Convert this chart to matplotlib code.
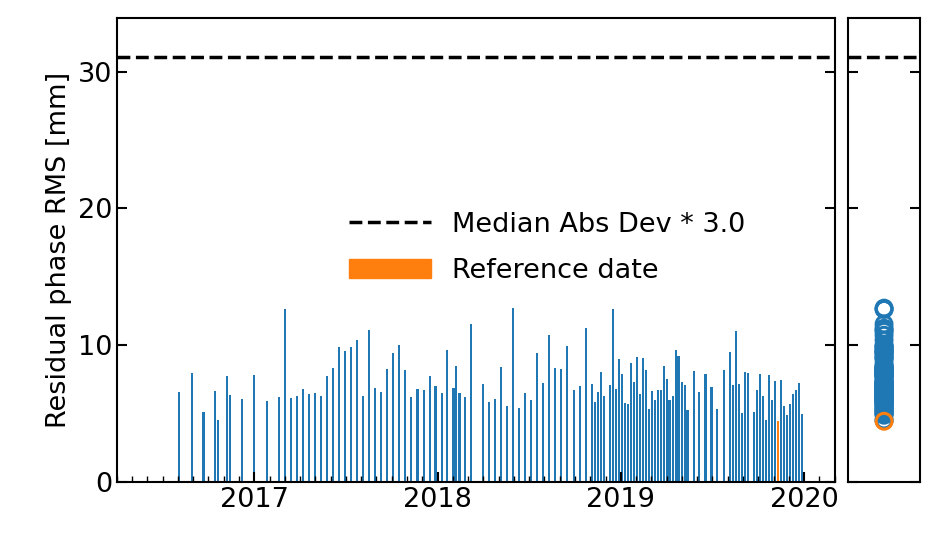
import matplotlib
matplotlib.use("Agg")
import matplotlib.pyplot as plt
from matplotlib.patches import Patch
from matplotlib.lines import Line2D
import numpy as np

dates = [2016.591, 2016.658, 2016.723, 2016.788, 2016.804, 2016.853, 2016.870, 2016.935, 2017.000, 2017.071,
         2017.136, 2017.168, 2017.201, 2017.234, 2017.266, 2017.299, 2017.332, 2017.364, 2017.397, 2017.429,
         2017.462, 2017.495, 2017.527, 2017.560, 2017.592, 2017.625, 2017.658, 2017.690, 2017.723, 2017.755,
         2017.788, 2017.821, 2017.853, 2017.891, 2017.924, 2017.957, 2017.989, 2018.022, 2018.054, 2018.087,
         2018.103, 2018.120, 2018.152, 2018.185, 2018.250, 2018.283, 2018.315, 2018.348, 2018.380, 2018.413,
         2018.446, 2018.478, 2018.511, 2018.543, 2018.576, 2018.609, 2018.641, 2018.674, 2018.707, 2018.745,
         2018.777, 2018.810, 2018.842, 2018.859, 2018.875, 2018.891, 2018.908, 2018.940, 2018.957, 2018.973,
         2018.989, 2019.005, 2019.022, 2019.038, 2019.054, 2019.071, 2019.087, 2019.103, 2019.120, 2019.136,
         2019.152, 2019.168, 2019.185, 2019.201, 2019.217, 2019.234, 2019.250, 2019.266, 2019.283, 2019.299,
         2019.315, 2019.332, 2019.348, 2019.364, 2019.397, 2019.429, 2019.462, 2019.495, 2019.527, 2019.565,
         2019.598, 2019.614, 2019.630, 2019.647, 2019.663, 2019.679, 2019.696, 2019.728, 2019.745, 2019.761,
         2019.777, 2019.793, 2019.810, 2019.826, 2019.842, 2019.859, 2019.875, 2019.891, 2019.908, 2019.924,
         2019.940, 2019.957, 2019.973, 2019.989]
rms = [6.56, 7.95, 5.10, 6.63, 4.51, 7.73, 6.34, 6.05, 7.80, 5.90,
       6.20, 12.63, 6.12, 6.27, 6.78, 6.41, 6.49, 6.27, 7.73, 8.32,
       9.85, 9.56, 9.85, 10.37, 6.27, 11.10, 6.85, 6.56, 8.24, 9.41,
       10.0, 8.17, 6.20, 6.78, 6.71, 7.73, 7.00, 6.49, 9.63, 6.85,
       8.46, 6.49, 6.20, 11.54, 7.15, 5.83, 6.05, 8.39, 5.54, 12.71,
       5.39, 6.49, 5.98, 9.41, 7.22, 10.73, 8.32, 8.24, 9.93, 6.71,
       7.00, 11.24, 7.15, 5.83, 6.56, 8.02, 6.27, 7.07, 12.63, 6.78,
       8.98, 7.88, 5.76, 5.68, 8.68, 7.29, 9.12, 6.41, 9.05, 8.17,
       5.32, 6.63, 5.98, 6.71, 6.71, 8.46, 7.51, 5.98, 6.27, 9.63,
       9.20, 7.29, 7.07, 5.24, 8.10, 6.56, 7.88, 6.93, 5.32, 8.17,
       9.49, 7.07, 11.02, 7.15, 5.02, 8.02, 7.95, 5.10, 6.71, 7.88,
       6.27, 4.51, 7.80, 5.98, 7.37, 4.44, 7.44, 5.54, 4.88, 5.68,
       6.41, 6.71, 7.22, 4.98]
ref_date = 2019.859
mad_threshold = 31.1
year_ticks = [2017, 2018, 2019, 2020]

blue = "#1f77b4"
orange = "#ff7f0e"
plt.rcParams['font.family'] = ['DejaVu Sans']
fig = plt.figure(figsize=(9.42, 5.45), dpi=100)
ax = fig.add_axes([0.124, 0.1156, 0.762, 0.851])
ax2 = fig.add_axes([0.900, 0.1156, 0.077, 0.851], sharey=ax)

d = np.array(dates); r = np.array(rms)
isref = np.isclose(d, ref_date, rtol=0, atol=1e-4)
ax.bar(d[~isref], r[~isref], width=0.0115, color=blue, linewidth=0)
ax.bar(d[isref], r[isref], width=0.0115, color=orange, linewidth=0)
ax.axhline(mad_threshold, color='k', ls='--', lw=2.5)
ax.set_xlim(2016.255, 2020.16)
ax.set_ylim(0, 33.9)
ax.set_xticks(year_ticks)
ax.set_xticklabels([str(y) for y in year_ticks])
ax.set_xticks(np.arange(2016.25, 2020.17, 1/12), minor=True)
ax.set_yticks([0, 10, 20, 30])
ax.tick_params(axis='both', which='major', direction='in', length=7, width=1.5, labelsize=19.5, right=True)
ax.tick_params(axis='x', which='minor', direction='in', length=4, width=1.0)
ax.set_ylabel("Residual phase RMS [mm]", fontsize=19.5)
for s in ax.spines.values():
    s.set_linewidth(1.5)
handles = [Line2D([], [], color='k', ls='--', lw=2.5), Patch(color=orange)]
ax.legend(handles, ["Median Abs Dev * 3.0", "Reference date"], loc='center', bbox_to_anchor=(0.6, 0.505),
          frameon=False, fontsize=19.5, handlelength=3.0, labelspacing=0.75)

ax2.scatter(np.zeros(len(r[~isref])), r[~isref], s=130, facecolors='none', edgecolors=blue, linewidths=2.2)
ax2.scatter(np.zeros(isref.sum()), r[isref], s=130, facecolors='none', edgecolors=orange, linewidths=2.2)
ax2.axhline(mad_threshold, color='k', ls='--', lw=2.5)
ax2.set_xlim(-1, 1)
ax2.set_xticks([])
ax2.tick_params(axis='y', direction='in', length=7, width=1.5, labelleft=False, right=True)
for s in ax2.spines.values():
    s.set_linewidth(1.5)

fig.savefig("out.png", dpi=100)
